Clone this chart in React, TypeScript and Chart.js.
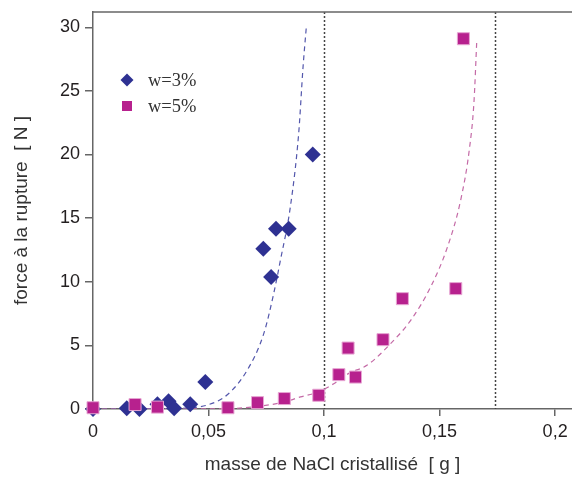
import React, { useEffect, useRef } from "react";
import { Chart, registerables } from "chart.js";

Chart.register(...registerables);

// ---- data ----
const seriesLabels = ["w=3%", "w=5%"];

const massW3 = [0, 0.0146, 0.0201, 0.0279, 0.0327, 0.0351, 0.0421, 0.0486, 0.0737, 0.0771, 0.0792, 0.0847, 0.0951];
const forceW3 = [0, 0.05, 0, 0.37, 0.6, 0.05, 0.37, 2.12, 12.6, 10.37, 14.17, 14.17, 20.0];

const massW5 = [0, 0.0182, 0.0279, 0.0584, 0.0712, 0.0828, 0.0977, 0.1064, 0.1104, 0.1136, 0.1255, 0.1339, 0.157, 0.1603];
const forceW5 = [0.1, 0.35, 0.15, 0.1, 0.5, 0.82, 1.08, 2.7, 4.79, 2.51, 5.45, 8.67, 9.46, 29.1];

const fitMassW3 = [0, 0.03, 0.0421, 0.0493, 0.058, 0.0667, 0.0739, 0.0782, 0.0811, 0.0854, 0.089, 0.0909, 0.0924];
const fitForceW3 = [0, 0.02, 0.1, 0.3, 1.1, 3.04, 5.92, 9.07, 11.68, 15.87, 21.63, 26.87, 30.2];

const fitMassW5 = [0, 0.03, 0.058, 0.071, 0.0828, 0.0898, 0.097, 0.1042, 0.1107, 0.1187, 0.1288, 0.1375, 0.1461, 0.1534, 0.1591, 0.1628, 0.1649, 0.1661];
const fitForceW5 = [0, 0.0, 0.03, 0.2, 0.55, 0.95, 1.3, 1.99, 2.8, 3.45, 5.14, 6.97, 9.58, 12.73, 16.4, 20.3, 24.2, 29.0];

const xTicks = [0, 0.05, 0.1, 0.15, 0.2];
const yTicks = [0, 5, 10, 15, 20, 25, 30];
const limitLines = [0.1, 0.1738];

const X_MAX = 0.2073;
const Y_MAX = 31.2;

const BLUE = "#2E3192";
const BLUE_LINE = "#5357AC";
const MAGENTA = "#B7218E";
const MAGENTA_LINE = "#C46AA6";
const AXIS = "#666666";
const TEXT = "#231F20";

const toPts = (xs: number[], ys: number[]) => xs.map((x, i) => ({ x, y: ys[i] }));
const fmt = (v: number) => String(Number(v.toFixed(3))).replace(".", ",");

const decorPlugin = {
  id: "decor",
  beforeDatasetsDraw(chart: any) {
    const { ctx, chartArea, scales } = chart;
    ctx.save();
    // dotted vertical limit lines
    ctx.strokeStyle = "#444444";
    ctx.lineWidth = 1.5;
    ctx.setLineDash([2, 2]);
    for (const v of limitLines) {
      const px = Math.round(scales.x.getPixelForValue(v)) + 0.5;
      ctx.beginPath();
      ctx.moveTo(px, chartArea.top);
      ctx.lineTo(px, chartArea.bottom);
      ctx.stroke();
    }
    ctx.setLineDash([]);
    // top frame line
    ctx.strokeStyle = AXIS;
    ctx.lineWidth = 1.5;
    ctx.beginPath();
    ctx.moveTo(chartArea.left, chartArea.top);
    ctx.lineTo(chartArea.right, chartArea.top);
    ctx.stroke();
    ctx.restore();
  },
  afterDraw(chart: any) {
    const { ctx } = chart;
    ctx.save();
    const mx = 127;
    const rows = [80, 106];
    // diamond
    ctx.fillStyle = BLUE;
    ctx.beginPath();
    ctx.moveTo(mx - 6.5, rows[0]);
    ctx.lineTo(mx, rows[0] - 6.5);
    ctx.lineTo(mx + 6.5, rows[0]);
    ctx.lineTo(mx, rows[0] + 6.5);
    ctx.closePath();
    ctx.fill();
    // square
    ctx.fillStyle = MAGENTA;
    ctx.fillRect(mx - 5, rows[1] - 5, 10, 10);
    ctx.fillStyle = "#333333";
    ctx.font = '18.5px "Liberation Serif", "Times New Roman", serif';
    ctx.textBaseline = "middle";
    ctx.textAlign = "left";
    ctx.fillText(chart.data.datasets[0].label, 148, rows[0] + 1);
    ctx.fillText(chart.data.datasets[1].label, 148, rows[1] + 1);
    ctx.restore();
  },
};

export default function App() {
  const ref = useRef<HTMLCanvasElement | null>(null);

  useEffect(() => {
    document.body.style.margin = "0";
    const canvas = ref.current;
    if (!canvas) return;
    const tickFont = { family: '"Liberation Sans", Arial, sans-serif', size: 18 };
    const titleFont = { family: '"Liberation Sans", Arial, sans-serif', size: 19 };
    const chart = new Chart(canvas, {
      type: "scatter",
      data: {
        datasets: [
          {
            label: seriesLabels[0],
            data: toPts(massW3, forceW3),
            pointStyle: "rectRot",
            pointRadius: 8,
            backgroundColor: BLUE,
            borderColor: BLUE,
            borderWidth: 0,
            clip: false,
            order: 2,
          },
          {
            label: seriesLabels[1],
            data: toPts(massW5, forceW5),
            pointStyle: "rect",
            pointRadius: 8.5,
            backgroundColor: MAGENTA,
            borderColor: "#E7A6D3",
            borderWidth: 1,
            clip: false,
            order: 1,
          },
          {
            label: "fit w=3%",
            data: toPts(fitMassW3, fitForceW3),
            showLine: true,
            pointRadius: 0,
            borderColor: BLUE_LINE,
            borderWidth: 1.2,
            borderDash: [5, 4],
            cubicInterpolationMode: "monotone",
            order: 4,
          },
          {
            label: "fit w=5%",
            data: toPts(fitMassW5, fitForceW5),
            showLine: true,
            pointRadius: 0,
            borderColor: MAGENTA_LINE,
            borderWidth: 1.2,
            borderDash: [5, 4],
            cubicInterpolationMode: "monotone",
            order: 3,
          },
        ],
      },
      options: {
        responsive: false,
        animation: false,
        devicePixelRatio: 1,
        layout: { autoPadding: false, padding: { top: 12, left: 10, right: 0, bottom: 0 } },
        plugins: { legend: { display: false }, tooltip: { enabled: false } },
        scales: {
          x: {
            type: "linear",
            min: 0,
            max: X_MAX,
            afterBuildTicks: (s: any) => {
              s.ticks = xTicks.map((v) => ({ value: v }));
            },
            afterFit: (s: any) => {
              s.height = 68;
              s.paddingLeft = 0;
              s.paddingRight = 0;
            },
            ticks: {
              font: tickFont,
              color: TEXT,
              padding: 5,
              maxRotation: 0,
              autoSkip: false,
              callback: (v: any) => fmt(Number(v)),
            },
            grid: {
              drawOnChartArea: false,
              drawTicks: true,
              tickLength: 7,
              color: AXIS,
              lineWidth: 1.5,
            },
            border: { color: AXIS, width: 1.5 },
            title: {
              display: true,
              text: "masse de NaCl cristallisé  [ g ]",
              font: titleFont,
              color: "#333333",
              padding: { top: 0, bottom: 1 },
            },
          },
          y: {
            type: "linear",
            min: 0,
            max: Y_MAX,
            afterBuildTicks: (s: any) => {
              s.ticks = yTicks.map((v) => ({ value: v }));
            },
            afterFit: (s: any) => {
              s.width = 83;
              s.paddingTop = 0;
              s.paddingBottom = 0;
            },
            ticks: {
              font: tickFont,
              color: TEXT,
              padding: 5,
              autoSkip: false,
              callback: (v: any) => fmt(Number(v)),
            },
            grid: {
              drawOnChartArea: false,
              drawTicks: true,
              tickLength: 8,
              color: AXIS,
              lineWidth: 1.5,
            },
            border: { color: AXIS, width: 1.5 },
            title: {
              display: true,
              text: "force à la rupture  [ N ]",
              font: titleFont,
              color: "#333333",
              padding: { top: 0, bottom: 0 },
            },
          },
        },
      },
      plugins: [decorPlugin],
    } as any);
    return () => chart.destroy();
  }, []);

  return (
    <div style={{ width: 572, height: 477 }}>
      <canvas ref={ref} width={572} height={477} style={{ display: "block" }} />
    </div>
  );
}
